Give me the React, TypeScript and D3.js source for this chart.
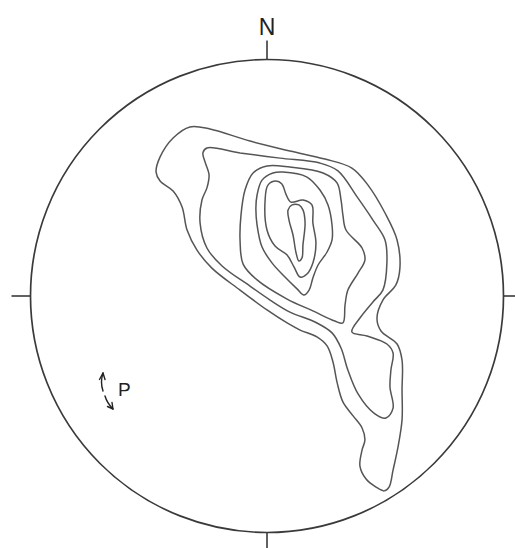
import React from "react";
import * as d3 from "d3";

// Stereonet coordinates: x east, y north, unit = percent of primitive radius
const contour1: [number, number][] = [
  [-46.9, 52.4], [-45.2, 58.8], [-39.7, 66.8], [-32.6, 71.5], [-24.1, 70.6], [-7.2, 65.5],
  [9.7, 61.3], [24.5, 57.9], [35.9, 54.1], [42.7, 46.9], [49.9, 35.1], [55.0, 23.7],
  [56.2, 11.8], [54.5, 4.7], [49.0, -1.7], [46.5, -9.3], [48.2, -14.8], [55.0, -20.3],
  [57.1, -27.1], [57.1, -39.7], [57.1, -52.4], [55.4, -63.8], [53.3, -73.6], [51.6, -80.8],
  [49.5, -82.4], [46.1, -80.8], [41.9, -77.4], [39.3, -71.9], [40.2, -65.1], [41.4, -60.9],
  [40.2, -55.8], [36.4, -50.7], [32.1, -44.8], [29.6, -36.4], [27.9, -27.9], [25.4, -21.1],
  [21.1, -17.3], [14.0, -14.4], [8.5, -11.4], [0, -5.9], [-11.4, 2.5], [-23.3, 11.8],
  [-29.6, 19.4], [-33.8, 27.9], [-35.9, 37.6], [-39.7, 44.4], [-45.2, 48.6],
];
const contour2: [number, number][] = [
  [-25.4, 62.6], [-11.4, 60.5], [5.5, 58.3], [22.4, 56.2], [30.0, 52.9], [38.1, 41.9],
  [44.8, 32.1], [49.9, 23.7], [50.7, 14.0], [49.0, 2.5], [44.8, -2.5], [39.3, -9.3],
  [35.9, -15.2], [42.3, -16.9], [50.7, -20.3], [53.3, -24.1], [52.4, -31.3], [52.0, -38.5],
  [53.3, -47.4], [50.3, -51.6], [45.2, -49.5], [38.5, -41.4], [34.2, -31.3], [31.3, -22.0],
  [27.5, -15.6], [20.3, -11.0], [9.7, -6.8], [1.3, -1.7], [-7.2, 4.2], [-19.0, 12.7],
  [-25.4, 20.3], [-28.3, 30.9], [-27.5, 40.6], [-25.4, 45.7], [-24.5, 51.2], [-26.2, 56.7],
  [-27.1, 60.5],
];
const contour3: [number, number][] = [
  [-5.9, 52.0], [0, 55.0], [9.7, 54.5], [23.7, 52.0], [29.6, 47.8], [31.3, 40.6],
  [32.1, 34.2], [33.4, 27.9], [40.2, 20.3], [41.4, 15.2], [38.5, 9.7], [34.2, 2.5],
  [33.0, -3.8], [32.1, -11.4], [28.7, -10.6], [19.4, -6.3], [8.5, -1.3], [-4.2, 6.8],
  [-10.1, 13.5], [-11.4, 23.7], [-11.0, 34.2], [-9.3, 44.8],
];
const contour4: [number, number][] = [
  [-4.2, 42.7], [-2.1, 49.0], [2.5, 52.0], [6.8, 52.4], [16.9, 50.3], [22.4, 44.8],
  [25.8, 38.5], [27.5, 30.0], [27.5, 23.7], [25.4, 18.6], [21.6, 13.1], [19.4, 7.6],
  [17.8, 2.5], [15.6, 0.4], [12.7, 3.0], [7.6, 8.0], [2.1, 14.0], [-2.1, 20.7],
  [-4.2, 30.0], [-4.7, 37.2],
];
const contour5: [number, number][] = [
  [-0.8, 40.6], [0.4, 46.9], [3.8, 48.6], [6.3, 47.4], [8.0, 43.1], [10.1, 39.7],
  [15.2, 40.6], [19.0, 38.5], [19.4, 30.9], [20.7, 22.4], [19.4, 14.0], [16.9, 9.3],
  [14.0, 8.0], [11.4, 12.3], [8.5, 17.3], [3.4, 21.1], [0, 27.9],
];
const contour6: [number, number][] = [
  [8.9, 36.4], [10.6, 38.5], [13.5, 38.5], [15.2, 36.4], [16.1, 30.9], [15.2, 21.6],
  [14.8, 16.1], [13.5, 14.8], [12.3, 18.2], [11.0, 25.8], [9.3, 32.1],
];
const contours = [contour1, contour2, contour3, contour4, contour5, contour6];

// Cardinal ticks: [x, y] direction on primitive
const ticks: [number, number][] = [[0, 1], [1, 0], [0, -1], [-1, 0]];
const northLabel = "N";
const arrowLabel = "P";

const W = 515;
const H = 548;
const cx = 267;
const cy = 296;
const R = 236.5;

export default function App() {
  const x = d3.scaleLinear().domain([-100, 100]).range([cx - R, cx + R]);
  const y = d3.scaleLinear().domain([-100, 100]).range([cy + R, cy - R]);
  const line = d3
    .line<[number, number]>()
    .x((d) => x(d[0]))
    .y((d) => y(d[1]))
    .curve(d3.curveCatmullRomClosed.alpha(0.5));
  const r = x(100) - x(0);
  const tickLen = 19;

  return (
    <svg
      width={W}
      height={H}
      style={{ position: "absolute", left: 0, top: 0, background: "#fff" }}
    >
      <circle cx={x(0)} cy={y(0)} r={r} fill="none" stroke="#3a3a3a" strokeWidth={1.7} />
      {ticks.map((t, i) => (
        <line
          key={i}
          x1={x(0) + t[0] * r}
          y1={y(0) - t[1] * r}
          x2={x(0) + t[0] * (r + tickLen)}
          y2={y(0) - t[1] * (r + tickLen)}
          stroke="#3a3a3a"
          strokeWidth={1.6}
        />
      ))}
      <text
        x={x(0)}
        y={35}
        textAnchor="middle"
        fontFamily="Liberation Sans, Arial, sans-serif"
        fontSize={23}
        fill="#222"
      >
        {northLabel}
      </text>
      {contours.map((c, i) => (
        <path key={i} d={line(c) || ""} fill="none" stroke="#555" strokeWidth={1.5} />
      ))}
      <g stroke="#222" strokeWidth={1.4} fill="none" strokeLinecap="round">
        <path d="M103,391 Q100,382 103,373" />
        <path d="M103,373 L99.5,379.5 M103,373 L105,379.5" />
        <path d="M105,396 Q107,403 113,409" />
        <path d="M113,409 L107.5,406.5 M113,409 L112,402.5" />
      </g>
      <text
        x={118}
        y={396}
        fontFamily="Liberation Sans, Arial, sans-serif"
        fontSize={19}
        fill="#222"
      >
        {arrowLabel}
      </text>
    </svg>
  );
}
